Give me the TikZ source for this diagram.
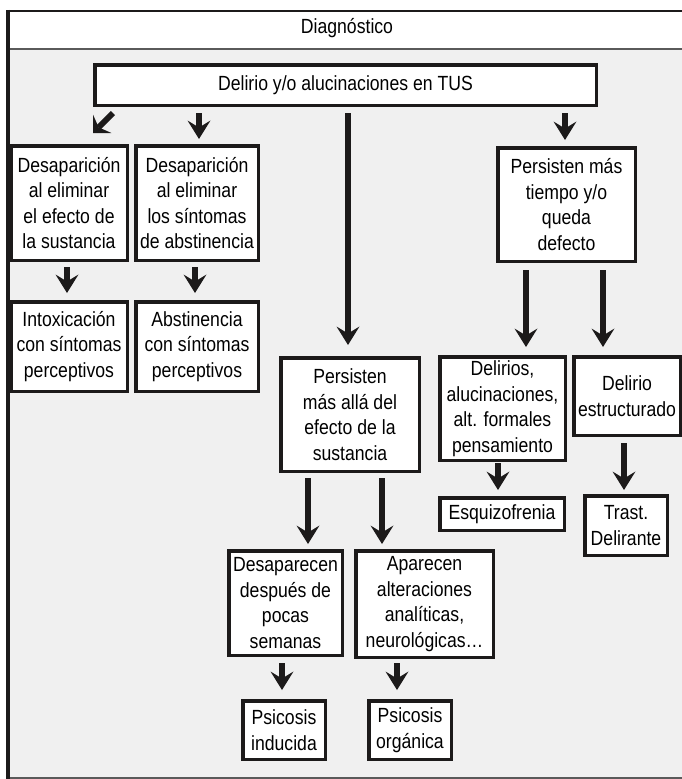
\documentclass[tikz,border=0pt]{standalone}
\usepackage{fontspec}
\setmainfont{Liberation Sans}[FakeStretch=0.86]
\usetikzlibrary{arrows.meta,calc}

\definecolor{inkc}{HTML}{1C1A1A}
\definecolor{bodyc}{HTML}{F0F0F0}
\definecolor{rulec}{HTML}{5A5A5A}

\tikzset{
  txt/.style={font=\fontsize{20.5}{25.5}\selectfont},
  box/.style={txt, draw=inkc, line width=3.5pt, fill=white, align=center,
              inner sep=0pt},
  flow/.style={draw=inkc, line width=5.5pt,
               -{Stealth[length=18.5pt, width=23pt, inset=7pt, line width=0pt]}},
  slant/.style={draw=inkc, line width=6pt,
               -{Stealth[length=13pt, width=26pt, inset=5pt, line width=0pt]}},
}

\begin{document}
\begin{tikzpicture}[x=1pt, y=-1pt]
\useasboundingbox (0,0) rectangle (682,779);
\fill[white] (0,0) rectangle (682,779);

% frame: header strip and grey body
\fill[bodyc] (8,49) rectangle (700,778);
\draw[line width=2.5pt, inkc] (6,11) -- (700,11);
\draw[line width=1.8pt, rulec] (8,49) -- (700,49);
\draw[line width=1.8pt, rulec] (8,778) -- (700,778);
\draw[line width=4pt, inkc] (8,9.75) -- (8,779);
\node[txt, anchor=base] (head) at (347,33) {Diagnóstico};

% boxes
\node[box, minimum width=501.5pt, minimum height=40.5pt] (tus) at (345.5,85)
  {Delirio y/o alucinaciones en TUS};

\node[box, minimum width=116.5pt, minimum height=114.5pt] (b1) at (69,203)
  {Desaparición\\al eliminar\\el efecto de\\la sustancia};
\node[box, minimum width=122.5pt, minimum height=114.5pt] (b2) at (197,203)
  {Desaparición\\al eliminar\\los síntomas\\de abstinencia};

\node[box, minimum width=116.5pt, minimum height=89.5pt] (intox) at (69,346.5)
  {Intoxicación\\con síntomas\\perceptivos};
\node[box, minimum width=122.5pt, minimum height=89.5pt] (abst) at (197,346.5)
  {Abstinencia\\con síntomas\\perceptivos};

\node[box, minimum width=137.5pt, minimum height=113.5pt] (ptime) at (566.5,204.5)
  {Persisten más\\tiempo y/o\\queda\\defecto};

\node[box, minimum width=138.5pt, minimum height=113.5pt] (pbeyond) at (350,414.5)
  {Persisten\\más allá del\\efecto de la\\sustancia};

\node[box, minimum width=125.5pt, minimum height=103.5pt] (delir) at (502.5,408.5)
  {Delirios,\\alucinaciones,\\alt. formales\\pensamiento};
\node[box, minimum width=106.5pt, minimum height=78.5pt] (estr) at (627,396)
  {Delirio\\estructurado};

\node[box, minimum width=124.5pt, minimum height=32.5pt] (esq) at (502,514)
  {Esquizofrenia};
\node[box, minimum width=82.5pt, minimum height=59.5pt] (trast) at (626,525.5)
  {Trast.\\Delirante};

\node[box, minimum width=113.5pt, minimum height=104.5pt] (desap) at (285.5,603)
  {Desaparecen\\después de\\pocas\\semanas};
\node[box, minimum width=137.5pt, minimum height=106.5pt] (apar) at (424.5,604)
  {Aparecen\\alteraciones\\analíticas,\\neurológicas…};

\node[box, minimum width=82.5pt, minimum height=58.5pt] (induc) at (284,730)
  {Psicosis\\inducida};
\node[box, minimum width=82.5pt, minimum height=58.5pt] (organ) at (410,730)
  {Psicosis\\orgánica};

% connectors
\draw[slant] ($(tus.south west)+(20,6)$) -- ($(b1.north east)+(-36,-11)$);
\draw[flow] ($(b2.north |- tus.south)+(2,6)$) -- ($(b2.north)+(2,-5)$);
\draw[flow] ($(pbeyond.north |- tus.south)+(-2,6)$) -- ($(pbeyond.north)+(-2,-11)$);
\draw[flow] ($(ptime.north |- tus.south)+(-1.5,6)$) -- ($(ptime.north)+(-1.5,-6)$);

\draw[flow] ($(b1.south)+(-2,5)$) -- ($(intox.north)+(-2,-7)$);
\draw[flow] ($(b2.south)+(-2,5)$) -- ($(abst.north)+(-2,-7)$);

\draw[flow] ($(ptime.south)+(-40.5,7)$) -- ($(delir.north)+(23.5,-8)$);
\draw[flow] ($(ptime.south)+(36.5,7)$) -- ($(estr.north)+(-24,-8)$);

\draw[flow] ($(pbeyond.south)+(-42,5)$) -- ($(desap.north)+(22.5,-5)$);
\draw[flow] ($(pbeyond.south)+(32,5)$) -- ($(apar.north)+(-42.5,-5)$);

\draw[flow] ($(delir.south)+(-4.5,1)$) -- ($(esq.north)+(-4,-6)$);
\draw[flow] ($(estr.south)+(-3,6)$) -- ($(trast.north)+(-2,-4)$);

\draw[flow] ($(desap.south)+(-3.5,6)$) -- ($(induc.north)+(-2,-9)$);
\draw[flow] ($(apar.south)+(-27.5,4)$) -- ($(organ.north)+(-13,-9)$);
\end{tikzpicture}
\end{document}
